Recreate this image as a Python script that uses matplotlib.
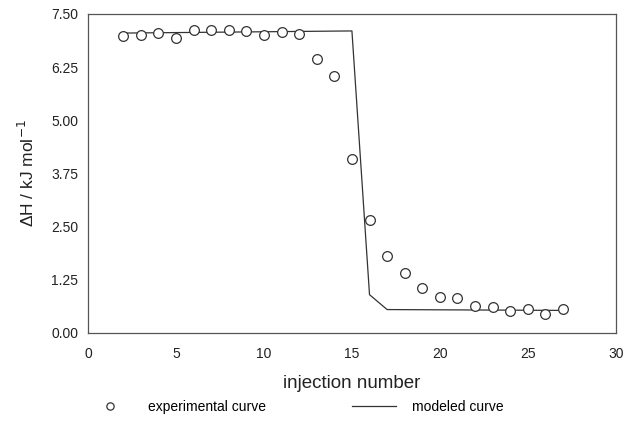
import numpy as np
import matplotlib.pyplot as plt

# experimental points
inj = [2, 3, 4, 5, 6, 7, 8, 9, 10, 11, 12, 13, 14, 15, 16, 17, 18, 19, 20, 21, 22, 23, 24, 25, 26, 27]
dH_exp = [6.98, 7.0, 7.05, 6.93, 7.13, 7.13, 7.13, 7.1, 7.0, 7.07, 7.03, 6.44, 6.03, 4.1,
          2.66, 1.8, 1.4, 1.05, 0.85, 0.83, 0.64, 0.62, 0.52, 0.57, 0.45, 0.57]

# model curve vertices
inj_model = [2, 15, 16, 17, 27]
dH_model = [7.05, 7.1, 0.9, 0.55, 0.53]

yticks = [0.0, 1.25, 2.5, 3.75, 5.0, 6.25, 7.5]
xticks = [0, 5, 10, 15, 20, 25, 30]

plt.rcParams['font.family'] = ['Liberation Sans', 'DejaVu Sans']

fig = plt.figure(figsize=(6.29, 4.22), dpi=100)
ax = fig.add_axes([0.14, 0.211, 0.839, 0.756])

ln, = ax.plot(inj_model, dH_model, color="#333333", lw=0.9)
pts, = ax.plot(inj, dH_exp, 'o', mfc='white', mec='#333333', mew=0.9, ms=7, ls='none')

ax.set_xlim(0, 30)
ax.set_ylim(0, 7.5)
ax.set_xticks(xticks)
ax.set_yticks(yticks)
ax.set_yticklabels([f"{v:.2f}" for v in yticks])
ax.tick_params(length=0, labelsize=10, colors="#222222")
ax.tick_params(axis='x', pad=10)
ax.tick_params(axis='y', pad=7)
for s in ax.spines.values():
    s.set_color("#555555")
    s.set_linewidth(0.9)

ax.set_xlabel("injection number", fontsize=13.5, labelpad=10, color="#222222")
ax.set_ylabel("ΔH / kJ mol$^{-1}$", fontsize=12.5, labelpad=10, color="#222222")

fig.legend([pts, ln], ["experimental curve", "modeled curve"], ncol=2, frameon=False,
           loc='center', bbox_to_anchor=(0.47, 0.035), fontsize=10, columnspacing=6.2,
           handlelength=3.2, handletextpad=1.1, markerscale=0.75)

fig.savefig("out.png", dpi=100)
